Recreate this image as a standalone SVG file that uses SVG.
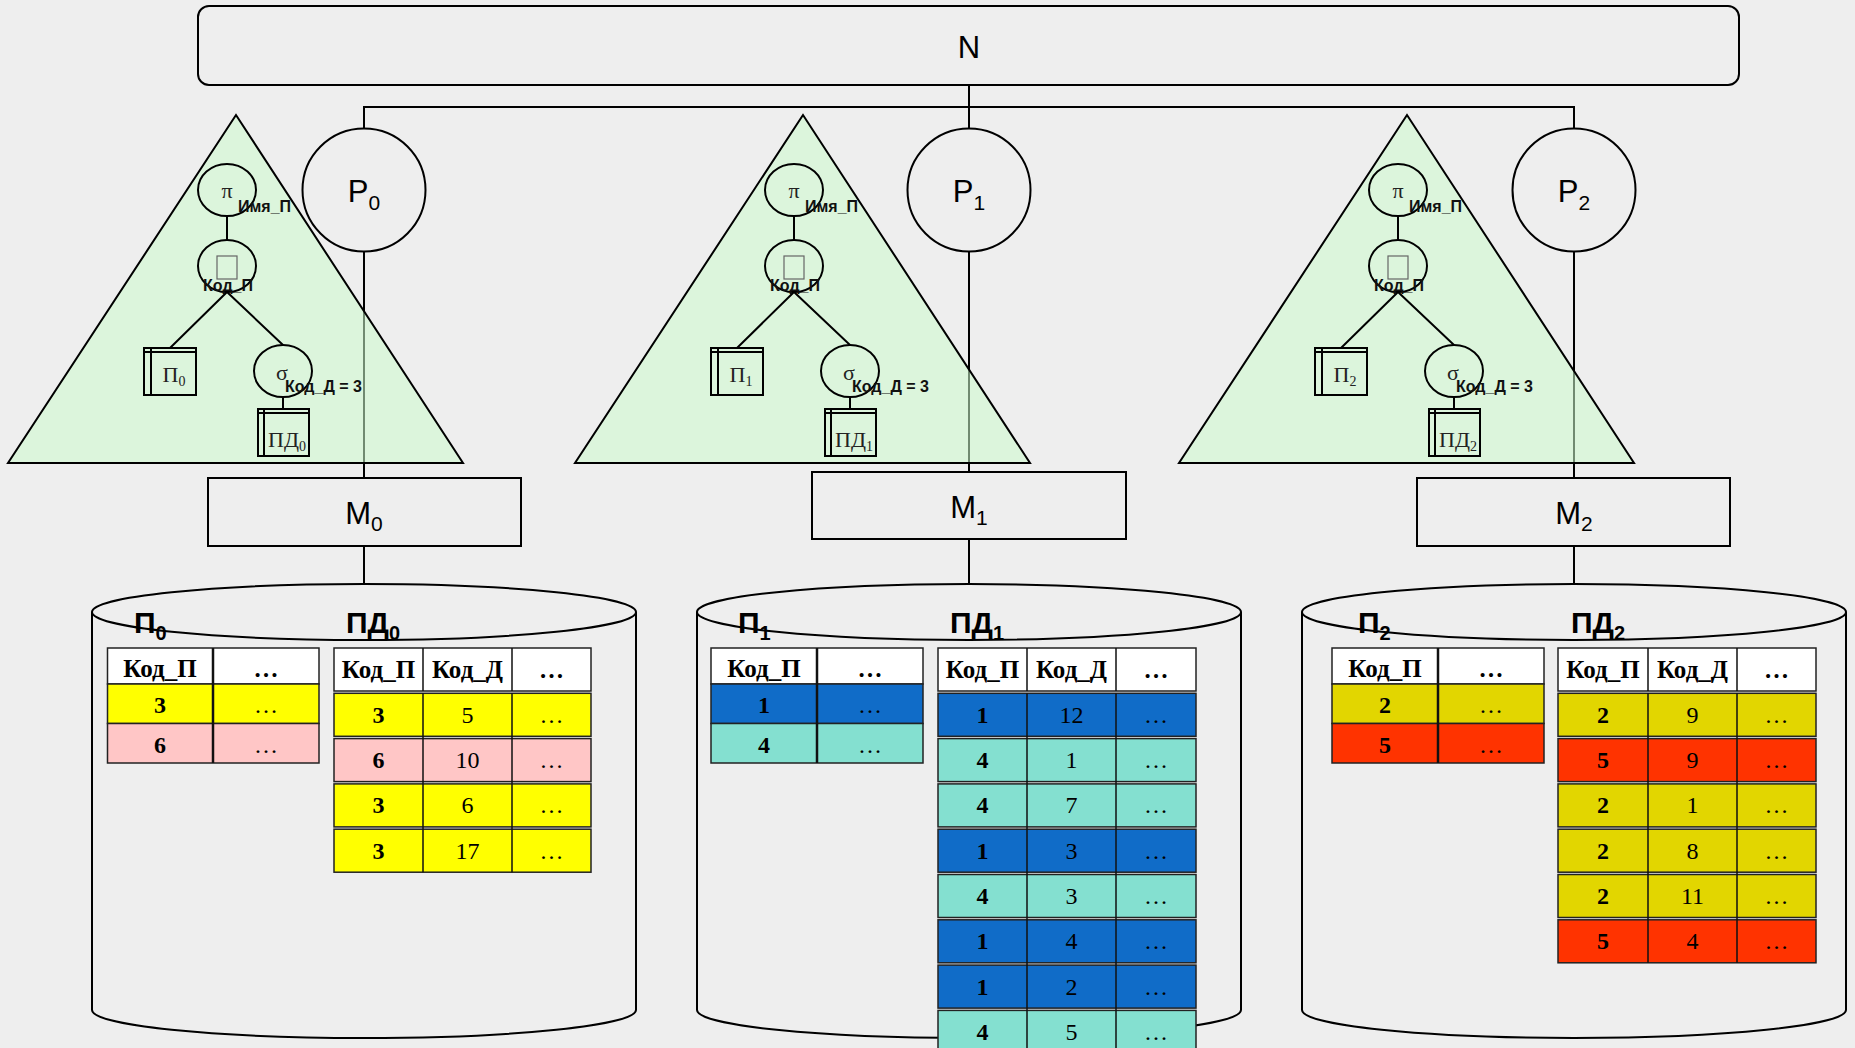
<svg xmlns="http://www.w3.org/2000/svg" width="1855" height="1048" viewBox="0 0 1855 1048">
<style>
.ln{stroke:#000;stroke-width:2;fill:none}
.tri{fill:#cdfbcd;fill-opacity:.55;stroke:#000;stroke-width:2}
.op{fill:none;stroke:#000;stroke-width:2}
.box{fill:#eeeeee;stroke:#000;stroke-width:2}
.tofu{fill:none;stroke:#666;stroke-width:1.2}
.lbl{font-family:"Liberation Sans",Arial,sans-serif;font-weight:bold;font-size:16px;fill:#111}
.sym{font-family:"Liberation Serif","Times New Roman",serif;font-size:22px;text-anchor:middle;fill:#222}
.big{font-family:"Liberation Sans",Arial,sans-serif;font-size:31px;text-anchor:middle;fill:#000}
.cap{font-family:"Liberation Sans",Arial,sans-serif;font-weight:bold;font-size:30px;fill:#000}
.th{font-family:"Liberation Serif","Times New Roman",serif;font-weight:bold;font-size:25px;text-anchor:middle;fill:#000}
.td{font-family:"Liberation Serif","Times New Roman",serif;font-size:24px;text-anchor:middle;fill:#000}
.b{font-weight:bold}
.cell{stroke:#222;stroke-width:1.5}
.div{stroke:#111;stroke-width:1.5}
.div2{stroke:#111;stroke-width:2.5}
.hd{fill:#ffffff}.y{fill:#ffff00}.pk{fill:#ffc6c6}.bl{fill:#106cc8}.tl{fill:#84e0d0}.ol{fill:#e2d600}.rd{fill:#ff3300}
</style>
<rect x="0" y="0" width="1855" height="1048" fill="#eeeeee"/>

<!-- connectors -->
<g id="connectors" class="ln">
  <path d="M969,85 V128"/>
  <path d="M364,128 V107 H1574 V128"/>
  <path d="M364,251 V478"/>
  <path d="M969,252 V472"/>
  <path d="M1574,251 V478"/>
  <path d="M364,546 V584"/>
  <path d="M969,539 V584"/>
  <path d="M1574,546 V584"/>
</g>

<!-- query tree, site 0 -->
<g id="tree0">
  <polygon class="tri" points="236,115 8,463 463,463"/>
  <ellipse class="op" cx="227" cy="190" rx="29" ry="26"/>
  <text class="sym" x="227" y="198">π</text>
  <text class="lbl" x="238" y="212">Имя_П</text>
  <path class="ln" d="M227,216 V240"/>
  <ellipse class="op" cx="227" cy="266" rx="29" ry="26"/>
  <rect class="tofu" x="217" y="256" width="20" height="23"/>
  <text class="lbl" x="228" y="291" text-anchor="middle">Код_П</text>
  <path class="ln" d="M227,292 L170,348 M227,292 L283,345"/>
  <rect class="op" x="144" y="348" width="52" height="47"/>
  <path class="ln" d="M144,352 H196 M151,348 V395"/>
  <text class="sym" x="174" y="382">П<tspan font-size="14" dy="4">0</tspan></text>
  <ellipse class="op" cx="283" cy="371" rx="29" ry="26"/>
  <text class="sym" x="282" y="380">σ</text>
  <text class="lbl" x="285" y="392">Код_Д = 3</text>
  <path class="ln" d="M283,397 V409"/>
  <rect class="op" x="258" y="409" width="51" height="47"/>
  <path class="ln" d="M258,413 H309 M264,409 V456"/>
  <text class="sym" x="287" y="447">ПД<tspan font-size="14" dy="4">0</tspan></text>
</g>

<!-- query tree, site 1 -->
<g id="tree1">
  <polygon class="tri" points="803,115 575,463 1030,463"/>
  <ellipse class="op" cx="794" cy="190" rx="29" ry="26"/>
  <text class="sym" x="794" y="198">π</text>
  <text class="lbl" x="805" y="212">Имя_П</text>
  <path class="ln" d="M794,216 V240"/>
  <ellipse class="op" cx="794" cy="266" rx="29" ry="26"/>
  <rect class="tofu" x="784" y="256" width="20" height="23"/>
  <text class="lbl" x="795" y="291" text-anchor="middle">Код_П</text>
  <path class="ln" d="M794,292 L737,348 M794,292 L850,345"/>
  <rect class="op" x="711" y="348" width="52" height="47"/>
  <path class="ln" d="M711,352 H763 M718,348 V395"/>
  <text class="sym" x="741" y="382">П<tspan font-size="14" dy="4">1</tspan></text>
  <ellipse class="op" cx="850" cy="371" rx="29" ry="26"/>
  <text class="sym" x="849" y="380">σ</text>
  <text class="lbl" x="852" y="392">Код_Д = 3</text>
  <path class="ln" d="M850,397 V409"/>
  <rect class="op" x="825" y="409" width="51" height="47"/>
  <path class="ln" d="M825,413 H876 M831,409 V456"/>
  <text class="sym" x="854" y="447">ПД<tspan font-size="14" dy="4">1</tspan></text>
</g>

<!-- query tree, site 2 -->
<g id="tree2">
  <polygon class="tri" points="1407,115 1179,463 1634,463"/>
  <ellipse class="op" cx="1398" cy="190" rx="29" ry="26"/>
  <text class="sym" x="1398" y="198">π</text>
  <text class="lbl" x="1409" y="212">Имя_П</text>
  <path class="ln" d="M1398,216 V240"/>
  <ellipse class="op" cx="1398" cy="266" rx="29" ry="26"/>
  <rect class="tofu" x="1388" y="256" width="20" height="23"/>
  <text class="lbl" x="1399" y="291" text-anchor="middle">Код_П</text>
  <path class="ln" d="M1398,292 L1341,348 M1398,292 L1454,345"/>
  <rect class="op" x="1315" y="348" width="52" height="47"/>
  <path class="ln" d="M1315,352 H1367 M1322,348 V395"/>
  <text class="sym" x="1345" y="382">П<tspan font-size="14" dy="4">2</tspan></text>
  <ellipse class="op" cx="1454" cy="371" rx="29" ry="26"/>
  <text class="sym" x="1453" y="380">σ</text>
  <text class="lbl" x="1456" y="392">Код_Д = 3</text>
  <path class="ln" d="M1454,397 V409"/>
  <rect class="op" x="1429" y="409" width="51" height="47"/>
  <path class="ln" d="M1429,413 H1480 M1435,409 V456"/>
  <text class="sym" x="1458" y="447">ПД<tspan font-size="14" dy="4">2</tspan></text>
</g>

<!-- network -->
<g id="N">
  <rect class="box" x="198" y="6" width="1541" height="79" rx="11"/>
  <text class="big" x="969" y="58">N</text>
</g>

<!-- processors -->
<g id="P0">
  <circle class="box" cx="364" cy="190" r="61.5"/>
  <text class="big" x="364" y="202">P<tspan font-size="21" dy="8">0</tspan></text>
</g>
<g id="P1">
  <circle class="box" cx="969" cy="190" r="61.5"/>
  <text class="big" x="969" y="202">P<tspan font-size="21" dy="8">1</tspan></text>
</g>
<g id="P2">
  <circle class="box" cx="1574" cy="190" r="61.5"/>
  <text class="big" x="1574" y="202">P<tspan font-size="21" dy="8">2</tspan></text>
</g>

<!-- memory -->
<g id="M0">
  <rect class="box" x="208" y="478" width="313" height="68"/>
  <text class="big" x="364" y="524">M<tspan font-size="21" dy="7">0</tspan></text>
</g>
<g id="M1">
  <rect class="box" x="812" y="472" width="314" height="67"/>
  <text class="big" x="969" y="518">M<tspan font-size="21" dy="7">1</tspan></text>
</g>
<g id="M2">
  <rect class="box" x="1417" y="478" width="313" height="68"/>
  <text class="big" x="1574" y="524">M<tspan font-size="21" dy="7">2</tspan></text>
</g>

<!-- disk 0 -->
<g id="D0">
  <ellipse class="op" cx="364" cy="612" rx="272" ry="28"/>
  <path class="op" d="M92,612 V1010 A272,28 0 0 0 636,1010 V612"/>
  <text class="cap" x="134" y="633">П<tspan font-size="20" dy="7">0</tspan></text>
  <text class="cap" x="346" y="633">ПД<tspan font-size="20" dy="7">0</tspan></text>
  <!-- table П0 -->
  <rect class="cell hd" x="107.5" y="648" width="211.5" height="36"/>
  <rect class="cell y" x="107.5" y="684" width="211.5" height="39.5"/>
  <rect class="cell pk" x="107.5" y="723.5" width="211.5" height="39.5"/>
  <path class="div2" d="M213,648 V763"/>
  <text class="th" x="160" y="677">Код_П</text><text class="th" x="266" y="677">…</text>
  <text class="td b" x="160" y="713">3</text><text class="td" x="266" y="713">…</text>
  <text class="td b" x="160" y="753">6</text><text class="td" x="266" y="753">…</text>
  <!-- table ПД0 -->
  <rect class="cell hd" x="334" y="648" width="257" height="43"/>
  <rect class="cell y" x="334" y="693.3" width="257" height="43"/>
  <rect class="cell pk" x="334" y="738.6" width="257" height="43"/>
  <rect class="cell y" x="334" y="783.9" width="257" height="43"/>
  <rect class="cell y" x="334" y="829.2" width="257" height="43"/>
  <path class="div" d="M423,648 V691 M512,648 V691 M423,693.3 V872.2 M512,693.3 V872.2"/>
  <text class="th" x="378.5" y="678">Код_П</text><text class="th" x="467.5" y="678">Код_Д</text><text class="th" x="551.5" y="678">…</text>
  <text class="td b" x="378.5" y="723">3</text><text class="td" x="467.5" y="723">5</text><text class="td" x="551.5" y="723">…</text>
  <text class="td b" x="378.5" y="768">6</text><text class="td" x="467.5" y="768">10</text><text class="td" x="551.5" y="768">…</text>
  <text class="td b" x="378.5" y="813">3</text><text class="td" x="467.5" y="813">6</text><text class="td" x="551.5" y="813">…</text>
  <text class="td b" x="378.5" y="859">3</text><text class="td" x="467.5" y="859">17</text><text class="td" x="551.5" y="859">…</text>
</g>

<!-- disk 1 -->
<g id="D1">
  <ellipse class="op" cx="969" cy="612" rx="272" ry="28"/>
  <path class="op" d="M697,612 V1010 A272,28 0 0 0 1241,1010 V612"/>
  <text class="cap" x="738" y="633">П<tspan font-size="20" dy="7">1</tspan></text>
  <text class="cap" x="950" y="633">ПД<tspan font-size="20" dy="7">1</tspan></text>
  <!-- table П1 -->
  <rect class="cell hd" x="711" y="648" width="212" height="36"/>
  <rect class="cell bl" x="711" y="684" width="212" height="39.5"/>
  <rect class="cell tl" x="711" y="723.5" width="212" height="39.5"/>
  <path class="div2" d="M817,648 V763"/>
  <text class="th" x="764" y="677">Код_П</text><text class="th" x="870" y="677">…</text>
  <text class="td b" x="764" y="713">1</text><text class="td" x="870" y="713">…</text>
  <text class="td b" x="764" y="753">4</text><text class="td" x="870" y="753">…</text>
  <!-- table ПД1 -->
  <rect class="cell hd" x="938" y="648" width="258" height="43"/>
  <rect class="cell bl" x="938" y="693.3" width="258" height="43"/>
  <rect class="cell tl" x="938" y="738.6" width="258" height="43"/>
  <rect class="cell tl" x="938" y="783.9" width="258" height="43"/>
  <rect class="cell bl" x="938" y="829.2" width="258" height="43"/>
  <rect class="cell tl" x="938" y="874.5" width="258" height="43"/>
  <rect class="cell bl" x="938" y="919.8" width="258" height="43"/>
  <rect class="cell bl" x="938" y="965.1" width="258" height="43"/>
  <rect class="cell tl" x="938" y="1010.4" width="258" height="43"/>
  <path class="div" d="M1027,648 V691 M1116,648 V691 M1027,693.3 V1053 M1116,693.3 V1053"/>
  <text class="th" x="982.5" y="678">Код_П</text><text class="th" x="1071.5" y="678">Код_Д</text><text class="th" x="1156" y="678">…</text>
  <text class="td b" x="982.5" y="723">1</text><text class="td" x="1071.5" y="723">12</text><text class="td" x="1156" y="723">…</text>
  <text class="td b" x="982.5" y="768">4</text><text class="td" x="1071.5" y="768">1</text><text class="td" x="1156" y="768">…</text>
  <text class="td b" x="982.5" y="813">4</text><text class="td" x="1071.5" y="813">7</text><text class="td" x="1156" y="813">…</text>
  <text class="td b" x="982.5" y="859">1</text><text class="td" x="1071.5" y="859">3</text><text class="td" x="1156" y="859">…</text>
  <text class="td b" x="982.5" y="904">4</text><text class="td" x="1071.5" y="904">3</text><text class="td" x="1156" y="904">…</text>
  <text class="td b" x="982.5" y="949">1</text><text class="td" x="1071.5" y="949">4</text><text class="td" x="1156" y="949">…</text>
  <text class="td b" x="982.5" y="995">1</text><text class="td" x="1071.5" y="995">2</text><text class="td" x="1156" y="995">…</text>
  <text class="td b" x="982.5" y="1040">4</text><text class="td" x="1071.5" y="1040">5</text><text class="td" x="1156" y="1040">…</text>
</g>

<!-- disk 2 -->
<g id="D2">
  <ellipse class="op" cx="1574" cy="612" rx="272" ry="28"/>
  <path class="op" d="M1302,612 V1010 A272,28 0 0 0 1846,1010 V612"/>
  <text class="cap" x="1358" y="633">П<tspan font-size="20" dy="7">2</tspan></text>
  <text class="cap" x="1571" y="633">ПД<tspan font-size="20" dy="7">2</tspan></text>
  <!-- table П2 -->
  <rect class="cell hd" x="1332" y="648" width="212" height="36"/>
  <rect class="cell ol" x="1332" y="684" width="212" height="39.5"/>
  <rect class="cell rd" x="1332" y="723.5" width="212" height="39.5"/>
  <path class="div2" d="M1438,648 V763"/>
  <text class="th" x="1385" y="677">Код_П</text><text class="th" x="1491" y="677">…</text>
  <text class="td b" x="1385" y="713">2</text><text class="td" x="1491" y="713">…</text>
  <text class="td b" x="1385" y="753">5</text><text class="td" x="1491" y="753">…</text>
  <!-- table ПД2 -->
  <rect class="cell hd" x="1558" y="648" width="258" height="43"/>
  <rect class="cell ol" x="1558" y="693.3" width="258" height="43"/>
  <rect class="cell rd" x="1558" y="738.6" width="258" height="43"/>
  <rect class="cell ol" x="1558" y="783.9" width="258" height="43"/>
  <rect class="cell ol" x="1558" y="829.2" width="258" height="43"/>
  <rect class="cell ol" x="1558" y="874.5" width="258" height="43"/>
  <rect class="cell rd" x="1558" y="919.8" width="258" height="43"/>
  <path class="div" d="M1648,648 V691 M1737,648 V691 M1648,693.3 V962.8 M1737,693.3 V962.8"/>
  <text class="th" x="1603" y="678">Код_П</text><text class="th" x="1692.5" y="678">Код_Д</text><text class="th" x="1776.5" y="678">…</text>
  <text class="td b" x="1603" y="723">2</text><text class="td" x="1692.5" y="723">9</text><text class="td" x="1776.5" y="723">…</text>
  <text class="td b" x="1603" y="768">5</text><text class="td" x="1692.5" y="768">9</text><text class="td" x="1776.5" y="768">…</text>
  <text class="td b" x="1603" y="813">2</text><text class="td" x="1692.5" y="813">1</text><text class="td" x="1776.5" y="813">…</text>
  <text class="td b" x="1603" y="859">2</text><text class="td" x="1692.5" y="859">8</text><text class="td" x="1776.5" y="859">…</text>
  <text class="td b" x="1603" y="904">2</text><text class="td" x="1692.5" y="904">11</text><text class="td" x="1776.5" y="904">…</text>
  <text class="td b" x="1603" y="949">5</text><text class="td" x="1692.5" y="949">4</text><text class="td" x="1776.5" y="949">…</text>
</g>
</svg>
